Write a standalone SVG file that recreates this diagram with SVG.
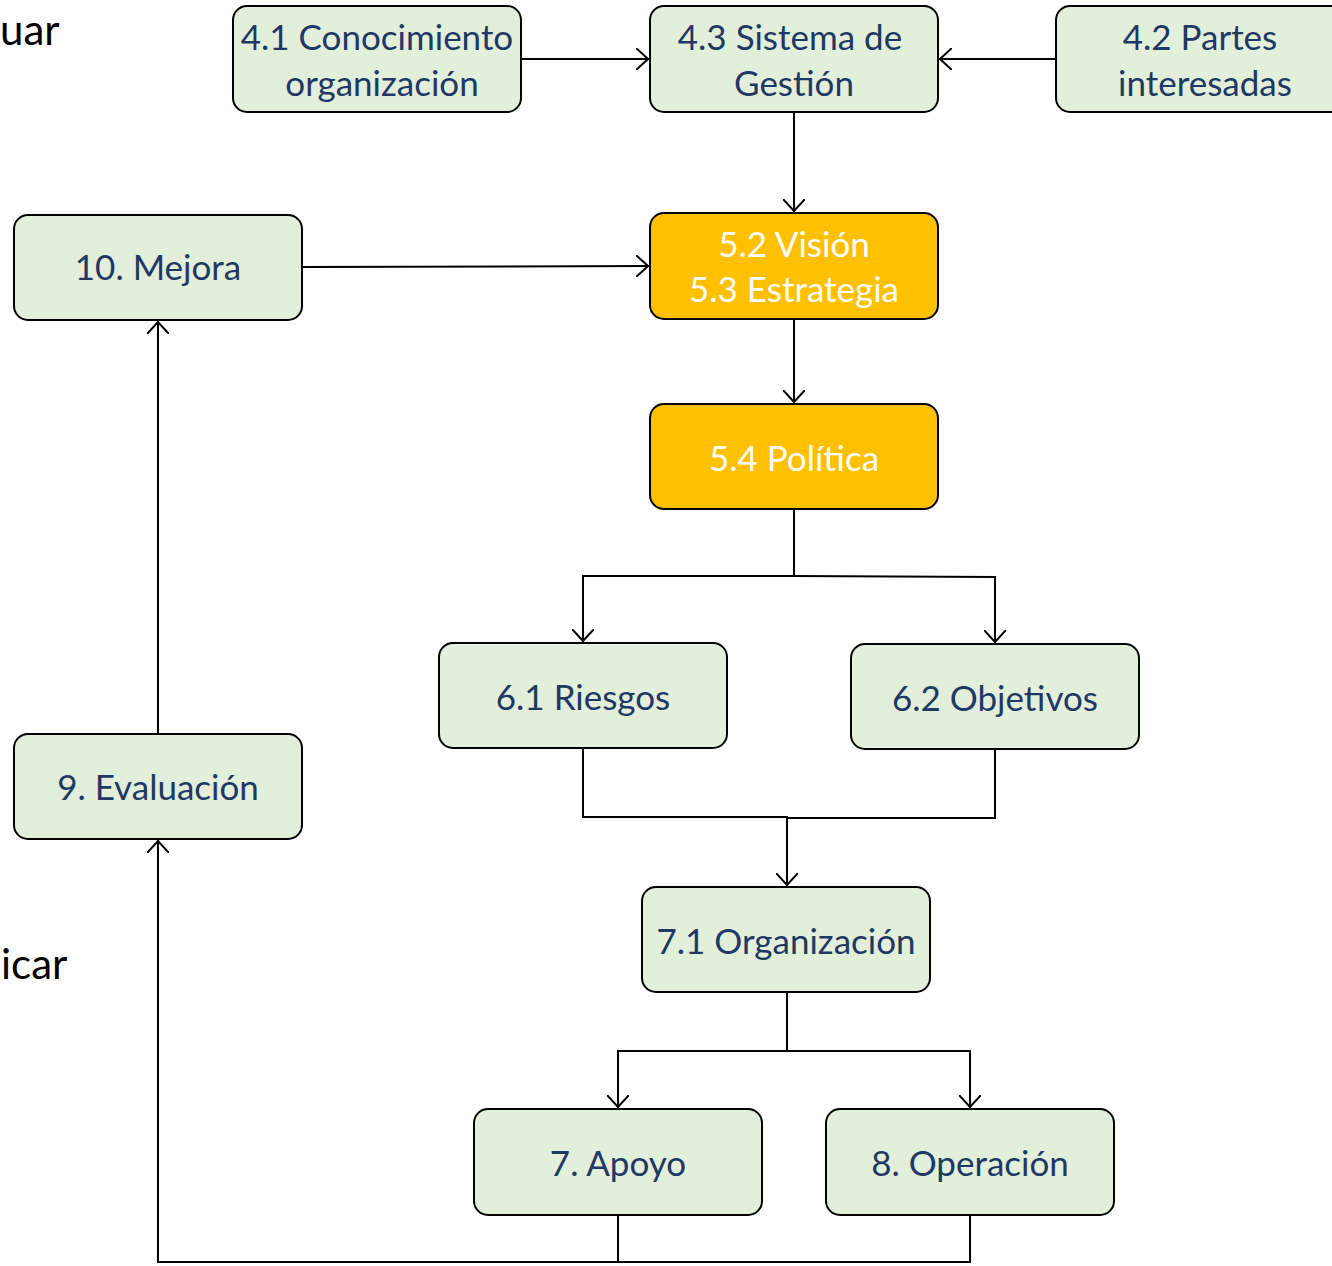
<svg xmlns="http://www.w3.org/2000/svg" width="1332" height="1266" viewBox="0 0 1332 1266">
  <style>
    .box { fill: #E2EFDA; stroke: #000; stroke-width: 2; }
    .hot { fill: #FFC000; stroke: #000; stroke-width: 2; }
    .lbl { font-family: Lato, "Open Sans", "Liberation Sans", sans-serif; font-size: 35px; fill: #1F3864; text-anchor: middle; }
    .lblw { fill: #FFFFFF; }
    .side { font-family: Lato, "Open Sans", "Liberation Sans", sans-serif; font-size: 42px; fill: #000; }
    .wire { fill: none; stroke: #000; stroke-width: 2; }
  </style>
  <defs>
    <marker id="vee" viewBox="0 0 13 22" refX="13" refY="11" markerWidth="13" markerHeight="22" markerUnits="userSpaceOnUse" orient="auto">
      <path d="M0,0 L12,11 L0,22" fill="none" stroke="#000" stroke-width="2"/>
    </marker>
  </defs>

  <!-- side labels -->
  <text class="side" x="0" y="45" font-size="39">uar</text>
  <text class="side" x="1" y="979" font-size="44">icar</text>

  <!-- connectors -->
  <g id="connectors">
    <path class="wire" d="M521,59 H649" marker-end="url(#vee)"/>
    <path class="wire" d="M1056,59 H939" marker-end="url(#vee)"/>
    <path class="wire" d="M794,112 V212" marker-end="url(#vee)"/>
    <path class="wire" d="M302,267 L649,266" marker-end="url(#vee)"/>
    <path class="wire" d="M794,319 V403" marker-end="url(#vee)"/>
    <path class="wire" d="M794,509 V576 H583 V642" marker-end="url(#vee)"/>
    <path class="wire" d="M794,576 L995,577 V643" marker-end="url(#vee)"/>
    <path class="wire" d="M583,748 V817 H787 V886" marker-end="url(#vee)"/>
    <path class="wire" d="M995,749 V818 H787"/>
    <path class="wire" d="M787,992 V1051 H618 V1108" marker-end="url(#vee)"/>
    <path class="wire" d="M787,1051 H970 V1108" marker-end="url(#vee)"/>
    <path class="wire" d="M618,1215 V1262 H158 V840" marker-end="url(#vee)"/>
    <path class="wire" d="M970,1215 V1262 H618"/>
    <path class="wire" d="M158,734 V321" marker-end="url(#vee)"/>
  </g>

  <!-- nodes -->
  <g id="n41">
    <rect class="box" x="233" y="6" width="288" height="106" rx="14"/>
    <text class="lbl" x="377" y="50">4.1 Conocimiento</text>
    <text class="lbl" x="382" y="96">organización</text>
  </g>
  <g id="n43">
    <rect class="box" x="650" y="6" width="288" height="106" rx="14"/>
    <text class="lbl" x="790" y="50">4.3 Sistema de</text>
    <text class="lbl" x="794" y="96">Gestión</text>
  </g>
  <g id="n42">
    <rect class="box" x="1056" y="6" width="290" height="106" rx="14"/>
    <text class="lbl" x="1200" y="50">4.2 Partes</text>
    <text class="lbl" x="1205" y="96">interesadas</text>
  </g>
  <g id="n10">
    <rect class="box" x="14" y="215" width="288" height="105" rx="14"/>
    <text class="lbl" x="158" y="280">10. Mejora</text>
  </g>
  <g id="n52">
    <rect class="hot" x="650" y="213" width="288" height="106" rx="14"/>
    <text class="lbl lblw" x="794" y="257">5.2 Visión</text>
    <text class="lbl lblw" x="794" y="302">5.3 Estrategia</text>
  </g>
  <g id="n54">
    <rect class="hot" x="650" y="404" width="288" height="105" rx="14"/>
    <text class="lbl lblw" x="794" y="471">5.4 Política</text>
  </g>
  <g id="n61">
    <rect class="box" x="439" y="643" width="288" height="105" rx="14"/>
    <text class="lbl" x="583" y="710">6.1 Riesgos</text>
  </g>
  <g id="n62">
    <rect class="box" x="851" y="644" width="288" height="105" rx="14"/>
    <text class="lbl" x="995" y="711">6.2 Objetivos</text>
  </g>
  <g id="n9">
    <rect class="box" x="14" y="734" width="288" height="105" rx="14"/>
    <text class="lbl" x="158" y="800">9. Evaluación</text>
  </g>
  <g id="n71">
    <rect class="box" x="642" y="887" width="288" height="105" rx="14"/>
    <text class="lbl" x="786" y="954">7.1 Organización</text>
  </g>
  <g id="n7">
    <rect class="box" x="474" y="1109" width="288" height="106" rx="14"/>
    <text class="lbl" x="618" y="1176">7. Apoyo</text>
  </g>
  <g id="n8">
    <rect class="box" x="826" y="1109" width="288" height="106" rx="14"/>
    <text class="lbl" x="970" y="1176">8. Operación</text>
  </g>
</svg>
